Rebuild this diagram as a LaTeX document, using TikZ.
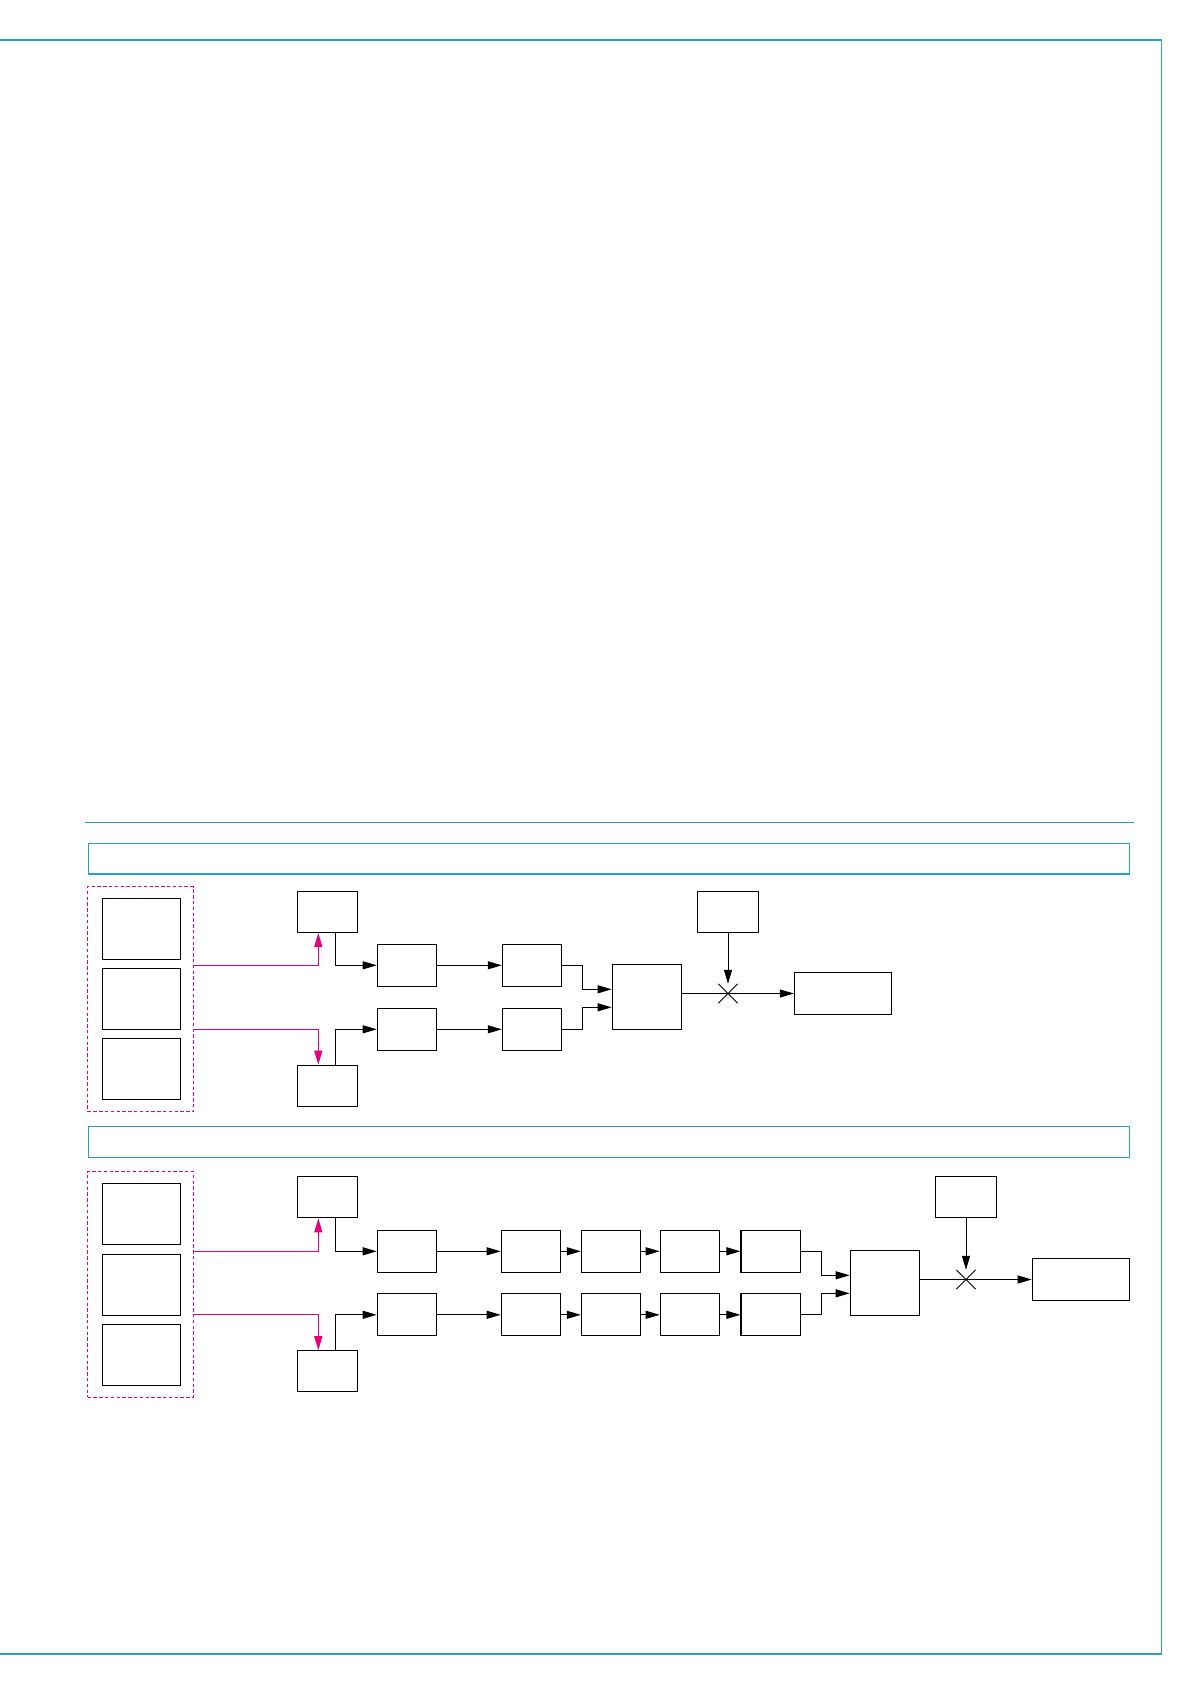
\documentclass[tikz,border=0pt]{standalone}
\usetikzlibrary{arrows.meta, shapes.misc}
\definecolor{framecol}{RGB}{38,160,200}
\definecolor{linkcol}{RGB}{228,0,127}

\begin{document}
\begin{tikzpicture}[x=0.5pt, y=-0.5pt, >={Triangle[length=7pt, width=4pt]},
  blk/.style={draw, rectangle, line width=0.6pt, inner sep=0pt},
  srcbox/.style={blk, minimum width=39pt, minimum height=30.5pt},
  refbox/.style={blk, minimum width=30.25pt, minimum height=20.5pt},
  stagebox/.style={blk, minimum width=29.6pt, minimum height=21pt},
  mixbox/.style={blk, minimum width=34.75pt, minimum height=32.5pt},
  oscbox/.style={blk, minimum width=30.75pt, minimum height=20.5pt},
  outbox/.style={blk, minimum width=48.6pt, minimum height=21.2pt},
  grpbox/.style={draw=linkcol, line width=0.5pt, dash pattern=on 1.7pt off 1.2pt,
    rectangle, inner sep=0pt, minimum width=52.8pt, minimum height=112.7pt},
  sig/.style={->, line width=0.5pt},
  link/.style={->, linkcol, line width=0.6pt},
  frame/.style={framecol, line width=0.7pt},
  mult/.style={cross out, draw, line width=0.4pt, minimum size=9.3pt, inner sep=0pt}]
  \useasboundingbox (0,0) rectangle (1191,1684);
  % page frame and section headers
  \draw[frame] (-4,40) -- (1161.5,40) -- (1161.5,1654) -- (-4,1654);
  \draw[frame] (84.9,822.3) -- (1134,822.3);
  \draw[frame] (88.3,843.3) rectangle (1129.2,874);
  \draw[frame] (88.3,1126.5) rectangle (1129.2,1157.3);
  % Section A
  \node[grpbox] (grpA) at (140.4,999.2) {};
  \node[srcbox] (srcA1) at (141.5,928.8) {};
  \node[srcbox] (srcA2) at (141.5,999.3) {};
  \node[srcbox] (srcA3) at (141.5,1068.8) {};
  \node[refbox] (refAu) at (327.5,911.8) {};
  \node[refbox] (refAl) at (327.5,1085.8) {};
  \node[stagebox] (stA1) at (406.9,965.3) {};
  \node[stagebox] (stA2) at (532,965.3) {};
  \node[stagebox] (stB1) at (406.9,1029.3) {};
  \node[stagebox] (stB2) at (532,1029.3) {};
  \node[mixbox] (mixA) at (647,996.8) {};
  \node[oscbox] (oscA) at (728,911.8) {};
  \node[outbox] (outA) at (843.1,993.5) {};
  \node[mult] (mulA) at (oscA |- outA) {};
  \draw[link] (grpA.east |- stA1.west) -| ([xshift=-4.6pt]refAu.south);
  \draw[link] (grpA.east |- stB1.west) -| ([xshift=-4.6pt]refAl.north);
  \draw[sig] ([xshift=4pt]refAu.south) |- (stA1.west);
  \draw[sig] ([xshift=4pt]refAl.north) |- (stB1.west);
  \draw[sig] (stA1) -- (stA2);
  \draw[sig] (stB1) -- (stB2);
  \draw[sig] (stA2.east) -- ++(20.6,0) |- ([yshift=3.75pt]mixA.west);
  \draw[sig] (stB2.east) -- ++(20.6,0) |- ([yshift=-5.25pt]mixA.west);
  \draw[sig] (oscA) -- (mulA);
  \draw[sig] (mixA.east |- mulA) -- (outA.west);
  % Section B
  \node[grpbox, minimum height=113pt] (grpB) at (140.4,1284.3) {};
  \node[srcbox] (srcB1) at (141.5,1214.3) {};
  \node[srcbox] (srcB2) at (141.5,1284.8) {};
  \node[srcbox] (srcB3) at (141.5,1354.8) {};
  \node[refbox] (refBu) at (327.5,1197.3) {};
  \node[refbox] (refBl) at (327.5,1371.3) {};
  \foreach \i/\xc in {1/406.9, 2/530.9, 3/611, 4/689.9, 5/770.6} {
    \node[stagebox] (sbA\i) at (\xc,1251.3) {};
    \node[stagebox] (sbB\i) at (\xc,1314.8) {};
  }
  \node[mixbox] (mixB) at (885,1282.8) {};
  \node[oscbox] (oscB) at (966,1197.3) {};
  \node[outbox] (outB) at (1080.9,1279.5) {};
  \node[mult] (mulB) at (oscB |- outB) {};
  \draw[link] (grpB.east |- sbA1.west) -| ([xshift=-4.6pt]refBu.south);
  \draw[link] (grpB.east |- sbB1.west) -| ([xshift=-4.6pt]refBl.north);
  \draw[sig] ([xshift=4pt]refBu.south) |- (sbA1.west);
  \draw[sig] ([xshift=4pt]refBl.north) |- (sbB1.west);
  \foreach \i/\j in {1/2, 2/3, 3/4, 4/5} {
    \draw[sig] (sbA\i) -- (sbA\j);
    \draw[sig] (sbB\i) -- (sbB\j);
  }
  \draw[sig] (sbA5.east) -- ++(20.6,0) |- ([yshift=3.75pt]mixB.west);
  \draw[sig] (sbB5.east) -- ++(20.6,0) |- ([yshift=-5.25pt]mixB.west);
  \draw[sig] (oscB) -- (mulB);
  \draw[sig] (mixB.east |- mulB) -- (outB.west);
\end{tikzpicture}
\end{document}
